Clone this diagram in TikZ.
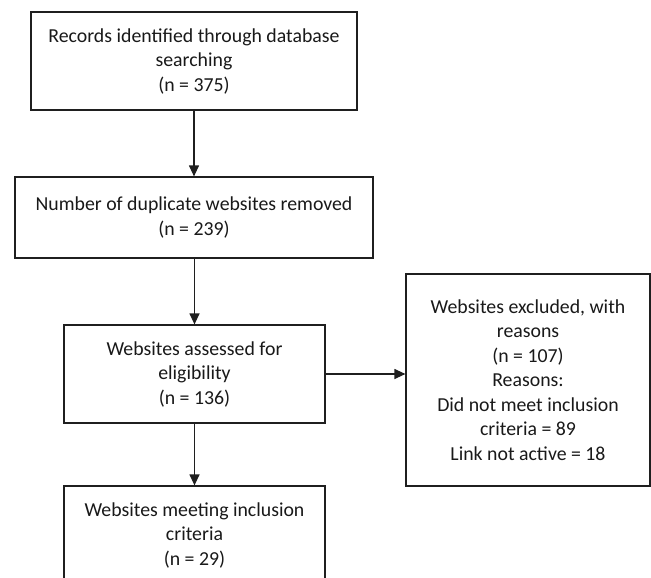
\documentclass[tikz,border=0pt]{standalone}
\usepackage{fontspec}
\setmainfont{Carlito}
\usetikzlibrary{arrows.meta}
\begin{document}
\begin{tikzpicture}[x=1pt,y=-1pt,
  box/.style={draw=black!88, line width=1.2pt, inner sep=0pt, align=center,
    font=\fontsize{19.8}{24.5}\selectfont, text=black!90},
  conn/.style={draw=black!88, line width=1.2pt, -{Triangle[length=11pt,width=10pt]}}]
\clip (0,0) rectangle (651,578);
\fill[white] (0,0) rectangle (651,578);
\node[box, minimum width=326pt, minimum height=98pt] (rec) at (194,61)
  {Records identified through database\\searching\\(n = 375)};
\node[box, minimum width=358pt, minimum height=81pt] (dup) at (194,217.5)
  {Number of duplicate websites removed\\(n = 239)};
\node[box, minimum width=261pt, minimum height=98pt] (ass) at (194.5,374)
  {Websites assessed for\\eligibility\\(n = 136)};
\node[box, minimum width=244pt, minimum height=212pt] (exc) at (528,380)
  {Websites excluded, with\\reasons\\ (n = 107)\\Reasons:\\Did not meet inclusion\\criteria = 89\\ Link not active = 18};
\node[box, minimum width=261pt, minimum height=98pt] (inc) at (194.5,535)
  {Websites meeting inclusion\\criteria\\(n = 29)};
\draw[conn] (rec) -- (dup);
\draw[conn] (dup.south -| ass.north) -- (ass);
\draw[conn] (ass) -- (inc);
\draw[conn] (ass.east) -- (ass.east -| exc.west);
\end{tikzpicture}
\end{document}
